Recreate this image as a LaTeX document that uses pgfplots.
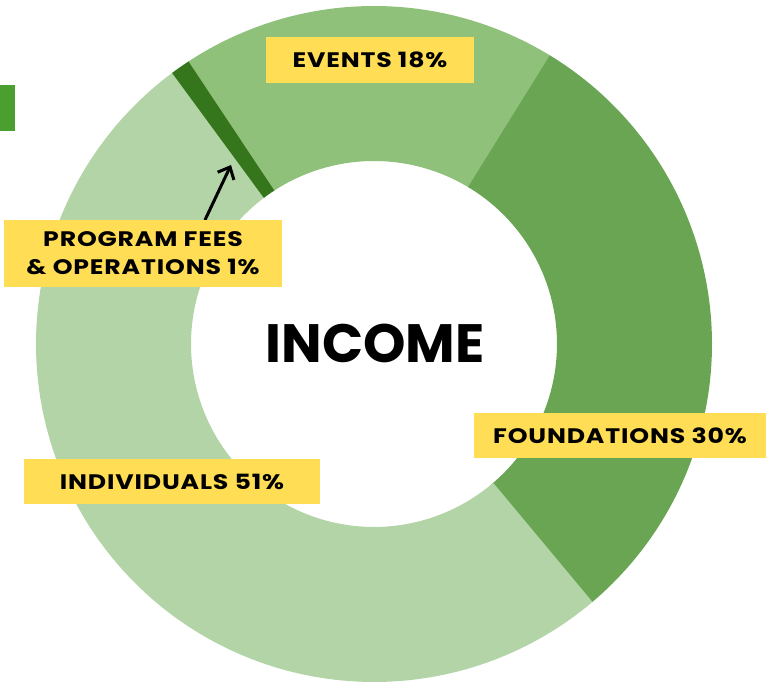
\documentclass[border=0pt]{standalone}
\usepackage{fontspec}
\setmainfont{Poppins}
\newfontfamily\labfont{Poppins}[FakeStretch=1.2, LetterSpace=4]
\usepackage{pgfplots}
\pgfplotsset{compat=1.18}
\usetikzlibrary{arrows.meta}
\definecolor{colE}{HTML}{8FC17A}
\definecolor{colF}{HTML}{6AA553}
\definecolor{colI}{HTML}{B2D4A6}
\definecolor{colP}{HTML}{35761C}
\definecolor{colG}{HTML}{4A9F2E}
\definecolor{lab}{HTML}{FFDD55}
% income shares (percent)
\def\pF{30}\def\pI{51}\def\pP{1}\def\pE{18}
\def\startang{58.4}
\begin{document}
\begin{tikzpicture}
\pgfmathsetmacro{\aF}{\startang-3.6*\pF}
\pgfmathsetmacro{\aI}{\aF-3.6*\pI}
\pgfmathsetmacro{\aP}{\aI-3.6*\pP}
\pgfmathsetmacro{\aE}{\aP-3.6*\pE}
\pgfmathsetmacro{\aFx}{\aF-0.4}
\pgfmathsetmacro{\aIx}{\aI-0.4}
\pgfmathsetmacro{\aPx}{\aP+0.4}
\pgfmathsetmacro{\sx}{\startang+0.4}
\begin{axis}[
  scale only axis, width=385pt, height=342pt,
  xmin=0, xmax=770, ymin=0, ymax=684,
  hide axis, clip=false,
]
\path (rel axis cs:0,0) rectangle (rel axis cs:1,1);
\addplot[draw=colE, line width=77.5pt, domain=\aE:\aPx, samples=60, line cap=butt] ({374+260.5*cos(x)},{340+260.5*sin(x)});
\addplot[draw=colF, line width=77.5pt, domain=\aFx:\sx, samples=90, line cap=butt] ({374+260.5*cos(x)},{340+260.5*sin(x)});
\addplot[draw=colI, line width=77.5pt, domain=\aIx:\aF, samples=150, line cap=butt] ({374+260.5*cos(x)},{340+260.5*sin(x)});
\addplot[draw=colP, line width=77.5pt, domain=\aP:\aI, samples=5, line cap=butt] ({374+260.5*cos(x)},{340+260.5*sin(x)});
\fill[colG] (axis cs:0,553) rectangle (axis cs:15,599);
\draw[line width=1.5pt, -{Straight Barb[length=5pt,width=9pt]}] (axis cs:205,464) -- (axis cs:231,519);
\node[font=\bfseries\fontsize{27}{30}\selectfont] at (axis cs:375,340.5) {INCOME};
\node[fill=lab, minimum width=104pt, minimum height=23pt, inner sep=0pt, font=\labfont\bfseries\fontsize{10.5}{12}\selectfont] at (axis cs:370,624) {EVENTS 18\%};
\node[fill=lab, minimum width=139pt, minimum height=33.5pt, inner sep=0pt, align=center, font=\labfont\bfseries\fontsize{10.5}{14}\selectfont] at (axis cs:143,430.5) {PROGRAM FEES\\\& OPERATIONS 1\%};
\node[fill=lab, minimum width=146pt, minimum height=22.5pt, inner sep=0pt, font=\labfont\bfseries\fontsize{10.5}{12}\selectfont] at (axis cs:620,248.5) {FOUNDATIONS 30\%};
\node[fill=lab, minimum width=148pt, minimum height=22.5pt, inner sep=0pt, font=\labfont\bfseries\fontsize{10.5}{12}\selectfont] at (axis cs:172,202.5) {INDIVIDUALS 51\%};
\end{axis}
\end{tikzpicture}
\end{document}
